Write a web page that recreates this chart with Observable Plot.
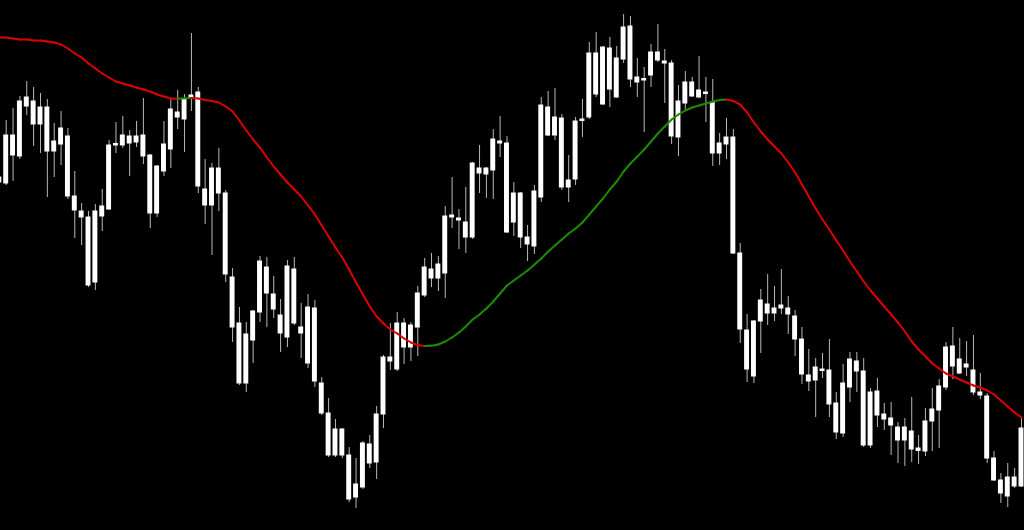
<!DOCTYPE html>
<html><head><meta charset="utf-8">
<script src="https://cdn.jsdelivr.net/npm/d3@7"></script>
<script src="https://cdn.jsdelivr.net/npm/@observablehq/plot@0.6"></script>
<style>html,body{margin:0;padding:0;background:#000;overflow:hidden}</style>
</head><body><div id="chart"></div>
<script>
// Bars indexed from -1 (the partly visible bar at the left edge) to 148
const firstIndex = -1;
const open = [353,347,395,374,424,429,406,423,379,386,394,334,319,313,248,314,321,385,385,394,
  388,395,375,317,359,381,418,411,433,438,341,325,362,337,253,207,147,190,218,263,
  236,215,193,261,203,167,222,147,117,75,101,75,33,43,86,68,116,173,161,207,
  183,203,235,261,252,257,313,312,308,293,362,356,360,389,387,308,337,293,284,333,
  423,395,412,343,351,409.5,413,477,426,482,433,471,504,453,450,455,478,469,467,393,
  427,448,433,438,428,377,386,393,277,200,154,209,226,217,222,222,214,191,155,150,
  161,160,127,97,143,169,159,85,139,116,112,103,90,99,82,79,109,120,143,184,
  157,166,160,138,134,72,50,34,53,44];
const high = [360,410,422,434,449,443,437,431,407,419,402,359,327,319,326,341,390,408,414,400,
  409,432,376,365,409,431,440,436,497,443,371,367,382,340,262,223,208,220,274,273,
  254,231,270,273,227,236,230,153,132,111,102,83,72,89,95,124,175,207,218,212,
  208,244,272,277,274,324,353,321,343,368,385,363,401,414,394,348,338,305,345,433,
  439,442,416,375,413,431,488,498,484,493,484,516,514,472,463,486,506,481,470,445,
  459,453,474,453,451,397,412,401,287,216,210,241,256,244,261,234,220,203,181,172,
  177,191,138,166,178,178,172,142,152,127,128,108,112,133,95,122,142,151,188,203,
  192,189,195,157,137,79,57,67,62,112];
const low = [342,345,349,371,415,384,377,333,353,365,331,292,285,243,240,299,320,377,382,354,
  383,366,302,313,354,362,401,378,419,337,306,275,319,248,188,145,138,167,208,203,
  212,178,183,205,172,162,143,115,73,73,72,28,22,41,62,51,102,160,159,166,
  169,174,233,243,239,232,302,281,277,291,337,332,331,373,297,294,282,269,276,328,
  394,390,340,328,345,393,411,433,425,423,432,467,443,433,398,443,468,427,386,374,
  419,433,432,408,364,365,371,276,187,148,147,177,205,209,216,196,174,146,139,113,
  152,113,91,93,128,138,83,82,103,100,75,67,64,68,66,74,79,82,140,151,
  156,154,135,131,67,49,27,23,42,43];
const close = [348,395,375,429,433,406,423,379,389,402,334,320,313,245,319,324,385,386.5,395,387,
  394,374,317,364,386,421,413,431,435,344,325,362,337,256,203,147,196,219,269,237,
  221,197,264,207,197,223,149,117,75,101,75,31,46,87,67,116,173,169,207,183,
  205,237,263,252,266,314,315,310,293,367,357,362,391,387,298,337,293,286,339,425,
  395,413,343,350,409,411,477,436,483,441,472,503,451,448,451.5,478,470,467,394,429,
  448,434,440,436.5,377,387,393,277,201,161,209,230,217,222,225,216,191,156,149,163,
  159.5,126,98,147,171,159,85,138,115,111,105,90,103,81,79.5,109,121,144,183,164,
  171,163,138,135,72,50,37,53,44,102];
// Moving average, one value per bar
const ma = [493,493,492,491,491,490,490,489,488,486,482,477,473,467,462,457,453,449,447,445,
  443,441,439,436,434,432,431.8,432.2,432.6,432,430.5,429.5,428,424,419,410,400,391,383,373,
  364,356,348,341,334,325,316,305,294,283,273,261,248,236,224,214,207,201,197,192,
  188,185.5,184.5,184.7,186,189,193,198,204,211,216,222,229,237,245,250,255,260,266,272,
  279,285,291,297,302,308,316,324,332,341,349,359,367,374,381,389,397,404,411,416,
  420,423,425,427,429,430.5,431,429.5,426,418,408,399,391,384,377,368,358,346,334,322,
  311,301,290,280,269,259,249,240,232,224,216,208,199,189,181,174,167,162,157,154,
  151,148,145,143,140,136,130,124,118,113];

const bars = open.map((o, k) => ({
  i: firstIndex + k, open: o, high: high[k], low: low[k], close: close[k], ma: ma[k]
}));
const segs = bars.slice(1).map((b, k) => ({
  i1: bars[k].i, v1: bars[k].ma, i2: b.i, v2: b.ma, up: b.ma > bars[k].ma
}));

const chart = Plot.plot({
  width: 1024, height: 530, margin: 0,
  style: {background: "#000", overflow: "hidden"},
  x: {domain: [-0.83, 148.44], axis: null},
  y: {domain: [0, 530], axis: null},
  marks: [
    Plot.ruleX(bars, {x: "i", y1: "low", y2: "high", stroke: "#b8b8b8", strokeWidth: 1}),
    Plot.rect(bars, {
      x1: d => d.i - 0.36, x2: d => d.i + 0.36,
      y1: d => Math.min(d.open, d.close), y2: d => Math.max(d.open, d.close),
      fill: "#ffffff", insetTop: -0.5, insetBottom: -0.5
    }),
    Plot.link(segs, {
      x1: "i1", y1: "v1", x2: "i2", y2: "v2",
      stroke: d => d.up ? "#1e8a00" : "#dc0000",
      strokeWidth: 2, strokeLinecap: "round"
    })
  ]
});
document.getElementById("chart").append(chart);
</script>
</body></html>
